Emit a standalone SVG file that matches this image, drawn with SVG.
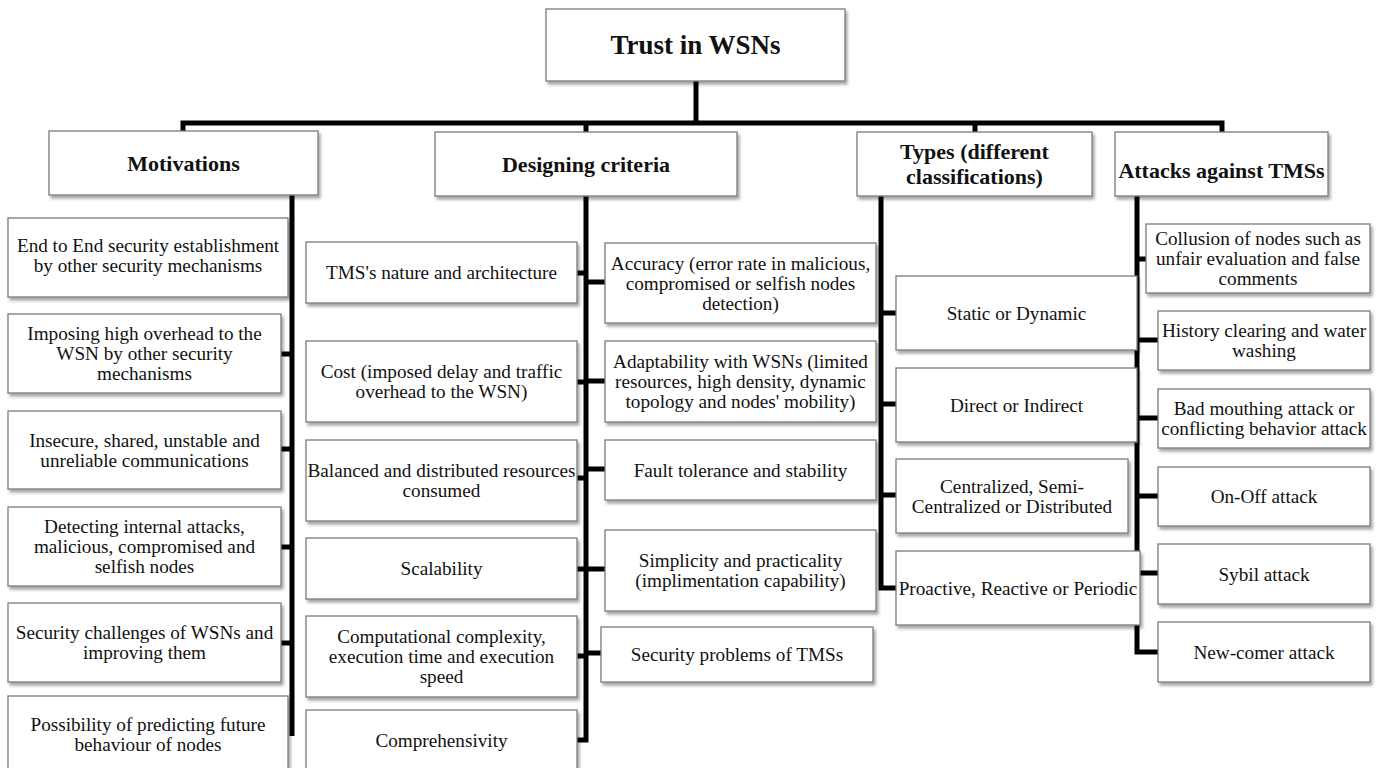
<svg xmlns="http://www.w3.org/2000/svg" width="1378" height="768" viewBox="0 0 1378 768">
<defs>
<filter id="sh" x="-10%" y="-10%" width="120%" height="130%">
<feDropShadow dx="2" dy="3" stdDeviation="1.6" flood-color="#000" flood-opacity="0.35"/>
</filter>
<style>
.box{fill:#fff;stroke:#7a7a7a;stroke-width:1.3;filter:url(#sh)}
.t{font-family:"Liberation Serif","Times New Roman",serif;font-size:19.2px;text-anchor:middle;fill:#111}
.h{font-weight:bold;font-size:22px}
.ti{font-weight:bold;font-size:27px}
.c{stroke:#000;stroke-width:5;fill:none;stroke-linejoin:miter;stroke-linecap:butt}
</style>
</defs>
<rect width="1378" height="768" fill="#fff"/>
<g id="connectors" class="c">
<path d="M696,81 V123"/>
<path d="M183,131 V123 H1222 V132"/>
<path d="M586,123 V132"/>
<path d="M975,123 V132"/>
<path d="M292,195 V736"/>
<path d="M281,354 H292 M281,449 H292 M281,547 H292 M281,643 H292"/>
<path d="M586,196 V740 H577"/>
<path d="M577,273 H586 M577,382 H586 M577,478 H586 M577,569 H586 M577,656 H586"/>
<path d="M586,282 H605 M586,381 H605 M586,469 H605 M586,569 H605 M586,653 H601"/>
<path d="M881,196 V588 H896"/>
<path d="M881,313 H896 M881,404 H896 M881,495 H896"/>
<path d="M1137,196 V652 H1158"/>
<path d="M1137,259 H1146 M1137,340 H1158 M1137,418 H1158 M1137,496 H1158 M1137,573 H1158"/>
</g>
<g id="title"><rect class="box" x="546" y="9" width="299" height="72"/><text class="t ti" x="695.5" y="54">Trust in WSNs</text></g>
<g id="motivations"><rect class="box" x="49" y="131" width="269" height="64"/><text class="t h" x="183.5" y="171">Motivations</text></g>
<g id="designing"><rect class="box" x="435" y="132" width="302" height="64"/><text class="t h" x="586" y="172">Designing criteria</text></g>
<g id="types"><rect class="box" x="857" y="132" width="235" height="64"/><text class="t h" x="974.5" y="159">Types (different</text><text class="t h" x="974.5" y="184">classifications)</text></g>
<g id="attacks"><rect class="box" x="1115" y="132" width="213" height="64"/><text class="t h" x="1221.5" y="178">Attacks against TMSs</text></g>

<g id="m1"><rect class="box" x="8" y="218" width="280" height="79"/><text class="t" x="148" y="252">End to End security establishment</text><text class="t" x="148" y="272">by other security mechanisms</text></g>
<g id="m2"><rect class="box" x="8" y="314" width="273" height="79"/><text class="t" x="144.5" y="340">Imposing high overhead to the</text><text class="t" x="144.5" y="360">WSN by other security</text><text class="t" x="144.5" y="380">mechanisms</text></g>
<g id="m3"><rect class="box" x="8" y="411" width="273" height="78"/><text class="t" x="144.5" y="446.5">Insecure, shared, unstable and</text><text class="t" x="144.5" y="466.5">unreliable communications</text></g>
<g id="m4"><rect class="box" x="8" y="507" width="273" height="79"/><text class="t" x="144.5" y="533">Detecting internal attacks,</text><text class="t" x="144.5" y="553">malicious, compromised and</text><text class="t" x="144.5" y="573">selfish nodes</text></g>
<g id="m5"><rect class="box" x="8" y="603" width="273" height="79"/><text class="t" x="144.5" y="639">Security challenges of WSNs and</text><text class="t" x="144.5" y="659">improving them</text></g>
<g id="m6"><rect class="box" x="8" y="696" width="280" height="84"/><text class="t" x="148" y="731">Possibility of predicting future</text><text class="t" x="148" y="751">behaviour of nodes</text></g>

<g id="d1"><rect class="box" x="306" y="242" width="271" height="61"/><text class="t" x="441.5" y="279">TMS's nature and architecture</text></g>
<g id="d2"><rect class="box" x="306" y="341" width="271" height="81"/><text class="t" x="441.5" y="378">Cost (imposed delay and traffic</text><text class="t" x="441.5" y="398">overhead to the WSN)</text></g>
<g id="d3"><rect class="box" x="306" y="440" width="271" height="81"/><text class="t" x="441.5" y="477">Balanced and distributed resources</text><text class="t" x="441.5" y="497">consumed</text></g>
<g id="d4"><rect class="box" x="306" y="538" width="271" height="61"/><text class="t" x="441.5" y="575">Scalability</text></g>
<g id="d5"><rect class="box" x="306" y="616" width="271" height="81"/><text class="t" x="441.5" y="643">Computational complexity,</text><text class="t" x="441.5" y="663">execution time and execution</text><text class="t" x="441.5" y="683">speed</text></g>
<g id="d6"><rect class="box" x="306" y="710" width="271" height="70"/><text class="t" x="441.5" y="747">Comprehensivity</text></g>

<g id="d7"><rect class="box" x="605" y="243" width="271" height="80"/><text class="t" x="740.5" y="269.5">Accuracy (error rate in malicious,</text><text class="t" x="740.5" y="289.5">compromised or selfish nodes</text><text class="t" x="740.5" y="309.5">detection)</text></g>
<g id="d8"><rect class="box" x="605" y="341" width="271" height="81"/><text class="t" x="740.5" y="368">Adaptability with WSNs (limited</text><text class="t" x="740.5" y="388">resources, high density, dynamic</text><text class="t" x="740.5" y="408">topology and nodes' mobility)</text></g>
<g id="d9"><rect class="box" x="605" y="440" width="271" height="60"/><text class="t" x="740.5" y="476.5">Fault tolerance and stability</text></g>
<g id="d10"><rect class="box" x="605" y="530" width="271" height="81"/><text class="t" x="740.5" y="567">Simplicity and practicality</text><text class="t" x="740.5" y="587">(implimentation capability)</text></g>
<g id="d11"><rect class="box" x="601" y="627" width="272" height="55"/><text class="t" x="737" y="661">Security problems of TMSs</text></g>

<g id="t1"><rect class="box" x="896" y="276" width="241" height="74"/><text class="t" x="1016.5" y="319.5">Static or Dynamic</text></g>
<g id="t2"><rect class="box" x="896" y="368" width="241" height="74"/><text class="t" x="1016.5" y="411.5">Direct or Indirect</text></g>
<g id="t3"><rect class="box" x="896" y="459" width="232" height="74"/><text class="t" x="1012" y="492.5">Centralized, Semi-</text><text class="t" x="1012" y="512.5">Centralized or Distributed</text></g>
<g id="t4"><rect class="box" x="896" y="551" width="244" height="74"/><text class="t" x="1018" y="594.5">Proactive, Reactive or Periodic</text></g>

<g id="a1"><rect class="box" x="1146" y="224" width="224" height="69"/><text class="t" x="1258" y="245">Collusion of nodes such as</text><text class="t" x="1258" y="265">unfair evaluation and false</text><text class="t" x="1258" y="285">comments</text></g>
<g id="a2"><rect class="box" x="1158" y="311" width="212" height="59"/><text class="t" x="1264" y="337">History clearing and water</text><text class="t" x="1264" y="357">washing</text></g>
<g id="a3"><rect class="box" x="1158" y="389" width="212" height="59"/><text class="t" x="1264" y="415">Bad mouthing attack or</text><text class="t" x="1264" y="435">conflicting behavior attack</text></g>
<g id="a4"><rect class="box" x="1158" y="467" width="212" height="59"/><text class="t" x="1264" y="503">On-Off attack</text></g>
<g id="a5"><rect class="box" x="1158" y="544" width="212" height="60"/><text class="t" x="1264" y="580.5">Sybil attack</text></g>
<g id="a6"><rect class="box" x="1158" y="622" width="212" height="60"/><text class="t" x="1264" y="658.5">New-comer attack</text></g>
</svg>
